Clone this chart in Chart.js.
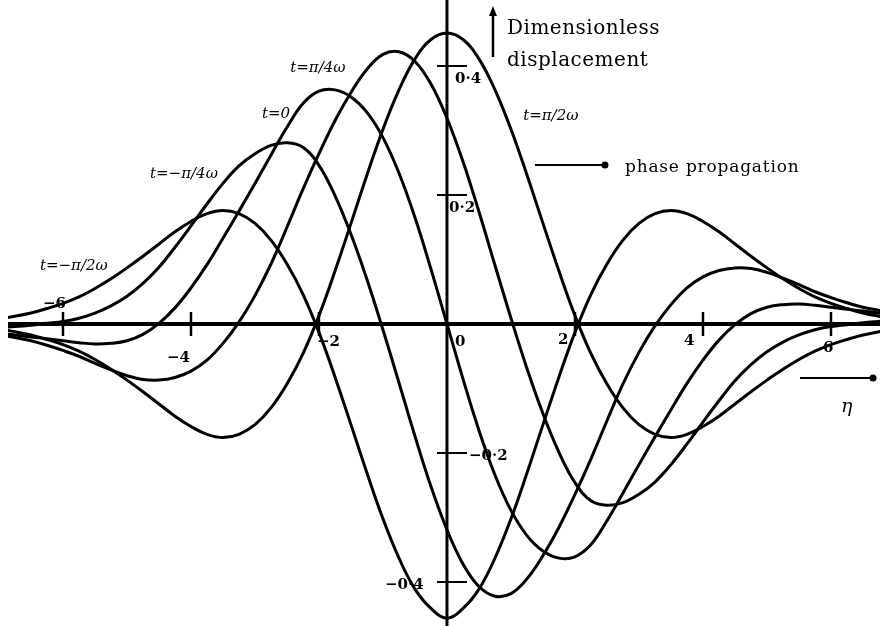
<!DOCTYPE html>
<html>
<head>
<meta charset="utf-8">
<script src="https://cdn.jsdelivr.net/npm/chart.js@4.4.1/dist/chart.umd.min.js"></script>
<style>
  html, body { margin: 0; padding: 0; background: #fff; }
  #wave { display: block; }
</style>
</head>
<body>
<canvas id="wave" width="880" height="626"></canvas>
<script>
// dimensionless distance eta, shared by every curve
var eta = [-7, -6.75, -6.5, -6.25, -6, -5.75, -5.5, -5.25, -5, -4.75, -4.5, -4.25, -4, -3.75, -3.5, -3.25,
           -3, -2.75, -2.5, -2.25, -2, -1.75, -1.5, -1.25, -1, -0.75, -0.5, -0.25, 0,
           0.25, 0.5, 0.75, 1, 1.25, 1.5, 1.75, 2, 2.25, 2.5, 2.75, 3, 3.25, 3.5, 3.75,
           4, 4.25, 4.5, 4.75, 5, 5.25, 5.5, 5.75, 6, 6.25, 6.5, 6.75, 7];

// displacement at five instants
var tMinusHalfPi = [0.008, 0.012, 0.017, 0.024, 0.032, 0.042, 0.055, 0.070, 0.087, 0.105, 0.124, 0.143, 0.159, 0.171, 0.176, 0.171,
                    0.156, 0.130, 0.093, 0.046, -0.013, -0.082, -0.156, -0.231, -0.302, -0.363, -0.411, -0.441, -0.456,
                    -0.441, -0.411, -0.363, -0.302, -0.231, -0.156, -0.082, -0.013, 0.046, 0.093, 0.130, 0.156, 0.171, 0.176, 0.171,
                    0.159, 0.143, 0.124, 0.105, 0.087, 0.070, 0.055, 0.042, 0.032, 0.024, 0.017, 0.012, 0.008];
var tMinusQuarterPi = [-0.005, -0.004, -0.002, 0.001, 0.004, 0.009, 0.017, 0.028, 0.043, 0.063, 0.088, 0.119, 0.152, 0.186, 0.218, 0.245,
                       0.264, 0.277, 0.281, 0.274, 0.246, 0.199, 0.139, 0.069, -0.009, -0.091, -0.174, -0.252, -0.319,
                       -0.372, -0.407, -0.422, -0.418, -0.395, -0.359, -0.315, -0.264, -0.209, -0.150, -0.093, -0.044, -0.003, 0.030, 0.056,
                       0.073, 0.083, 0.087, 0.086, 0.080, 0.071, 0.061, 0.050, 0.041, 0.033, 0.026, 0.021, 0.016];
var tZero = [-0.015, -0.017, -0.020, -0.023, -0.026, -0.029, -0.031, -0.030, -0.026, -0.016, 0.001, 0.025, 0.056, 0.092, 0.133, 0.175,
             0.218, 0.262, 0.305, 0.342, 0.361, 0.363, 0.352, 0.328, 0.289, 0.234, 0.165, 0.085, 0,
             -0.085, -0.165, -0.234, -0.289, -0.328, -0.352, -0.363, -0.361, -0.342, -0.305, -0.262, -0.218, -0.175, -0.133, -0.092,
             -0.056, -0.025, -0.001, 0.016, 0.026, 0.030, 0.031, 0.029, 0.026, 0.023, 0.020, 0.017, 0.015];
var tQuarterPi = [-0.016, -0.021, -0.026, -0.033, -0.041, -0.050, -0.061, -0.071, -0.080, -0.086, -0.087, -0.083, -0.073, -0.056, -0.030, 0.003,
                  0.044, 0.093, 0.150, 0.209, 0.264, 0.315, 0.359, 0.395, 0.418, 0.422, 0.407, 0.372, 0.319,
                  0.252, 0.174, 0.091, 0.009, -0.069, -0.139, -0.199, -0.246, -0.274, -0.281, -0.277, -0.264, -0.245, -0.218, -0.186,
                  -0.152, -0.119, -0.088, -0.063, -0.043, -0.028, -0.017, -0.009, -0.004, -0.001, 0.002, 0.004, 0.005];
var tHalfPi = [-0.008, -0.012, -0.017, -0.024, -0.032, -0.042, -0.055, -0.070, -0.087, -0.105, -0.124, -0.143, -0.159, -0.171, -0.176, -0.171,
               -0.156, -0.130, -0.093, -0.046, 0.013, 0.082, 0.156, 0.231, 0.302, 0.363, 0.411, 0.441, 0.451,
               0.441, 0.411, 0.363, 0.302, 0.231, 0.156, 0.082, 0.013, -0.046, -0.093, -0.130, -0.156, -0.171, -0.176, -0.171,
               -0.159, -0.143, -0.124, -0.105, -0.087, -0.070, -0.055, -0.042, -0.032, -0.024, -0.017, -0.012, -0.008];

var xTicks = [-6, -4, -2, 0, 2, 4, 6];
var xTickLabels = ['\u22126', '\u22124', '\u22122', '0', '2', '4', '6'];
var yTicks = [0.4, 0.2, -0.2, -0.4];
var yTickLabels = ['0\u00b74', '0\u00b72', '\u22120\u00b72', '\u22120\u00b74'];

function toPoints(ys) {
  return eta.map(function (x, i) { return { x: x, y: ys[i] }; });
}

var series = [tMinusHalfPi, tMinusQuarterPi, tZero, tQuarterPi, tHalfPi];

// axes through the origin, ticks and the captions
var axesPlugin = {
  id: 'axesThroughOrigin',
  beforeDatasetsDraw: function (chart) {
    var c = chart.ctx, xs = chart.scales.x, ys = chart.scales.y;
    var x0 = xs.getPixelForValue(0), y0 = ys.getPixelForValue(0);
    c.save();
    c.strokeStyle = '#000';
    c.lineWidth = 4;
    c.beginPath(); c.moveTo(chart.chartArea.left, y0); c.lineTo(chart.width, y0); c.stroke();
    c.lineWidth = 3;
    c.beginPath(); c.moveTo(x0, 0); c.lineTo(x0, chart.height); c.stroke();
    c.lineWidth = 2.5;
    xTicks.forEach(function (t) {
      if (t === 0) return;
      var px = xs.getPixelForValue(t);
      c.beginPath(); c.moveTo(px, y0 - 12); c.lineTo(px, y0 + 12); c.stroke();
    });
    c.lineWidth = 2;
    yTicks.forEach(function (v) {
      var py = ys.getPixelForValue(v);
      c.beginPath(); c.moveTo(x0 - 10, py); c.lineTo(x0 + 20, py); c.stroke();
    });
    c.restore();
  },
  afterDraw: function (chart) {
    var c = chart.ctx, xs = chart.scales.x, ys = chart.scales.y;
    var x0 = xs.getPixelForValue(0), y0 = ys.getPixelForValue(0);
    c.save();
    c.fillStyle = '#000';
    c.strokeStyle = '#000';

    // tick numbers
    c.font = 'bold 15px "DejaVu Serif"';
    var xOff = [[-20, -16], [-24, 38], [-2, 22], [8, 22], [-17, 20], [-19, 21], [-8, 28]];
    xTicks.forEach(function (t, i) {
      c.fillText(xTickLabels[i], xs.getPixelForValue(t) + xOff[i][0], y0 + xOff[i][1]);
    });
    var yOff = [[8, 17], [2, 17], [22, 7], [-62, 7]];
    yTicks.forEach(function (v, i) {
      c.fillText(yTickLabels[i], x0 + yOff[i][0], ys.getPixelForValue(v) + yOff[i][1]);
    });

    // time captions
    c.font = 'italic 15px "DejaVu Serif"';
    c.fillText('t=\u03c0/4\u03c9', xs.getPixelForValue(-2.45), ys.getPixelForValue(0.391));
    c.fillText('t=0', xs.getPixelForValue(-2.89), ys.getPixelForValue(0.319));
    c.fillText('t=\u2212\u03c0/4\u03c9', xs.getPixelForValue(-4.64), ys.getPixelForValue(0.226));
    c.fillText('t=\u2212\u03c0/2\u03c9', xs.getPixelForValue(-6.36), ys.getPixelForValue(0.084));
    c.fillText('t=\u03c0/2\u03c9', xs.getPixelForValue(1.19), ys.getPixelForValue(0.316));

    // vertical axis title with arrow
    c.font = '20px "DejaVu Serif"';
    c.letterSpacing = '0.5px';
    c.fillText('Dimensionless', x0 + 60, 34);
    c.fillText('displacement', x0 + 60, 66);
    c.lineWidth = 2.5;
    c.beginPath(); c.moveTo(x0 + 46, 57); c.lineTo(x0 + 46, 14); c.stroke();
    c.beginPath(); c.moveTo(x0 + 46, 6); c.lineTo(x0 + 42, 16); c.lineTo(x0 + 50, 16); c.closePath(); c.fill();

    // phase propagation arrow
    c.lineWidth = 2;
    c.beginPath(); c.moveTo(x0 + 88, 165); c.lineTo(x0 + 158, 165); c.stroke();
    c.beginPath(); c.arc(x0 + 158, 165, 3.5, 0, Math.PI * 2); c.fill();
    c.font = '17px "DejaVu Serif"';
    c.letterSpacing = '0.8px';
    c.fillText('phase propagation', x0 + 178, 172);
    c.letterSpacing = '0px';

    // eta arrow
    c.beginPath(); c.moveTo(800, y0 + 54); c.lineTo(873, y0 + 54); c.stroke();
    c.beginPath(); c.arc(873, y0 + 54, 3.5, 0, Math.PI * 2); c.fill();
    c.font = 'italic 19px "DejaVu Serif"';
    c.fillText('\u03b7', 841, y0 + 88);
    c.restore();
  }
};

var ctx = document.getElementById('wave').getContext('2d');
var waveChart = new Chart(ctx, {
  type: 'line',
  data: {
    datasets: series.map(function (ys) {
      return { data: toPoints(ys), borderColor: '#000', borderWidth: 3, fill: false };
    })
  },
  options: {
    responsive: false,
    animation: false,
    layout: { padding: { left: 8, right: 0, top: 0, bottom: 0 } },
    elements: {
      point: { radius: 0 },
      line: { tension: 0.4 }
    },
    scales: {
      x: { type: 'linear', min: -6.859, max: 6.766, display: false },
      y: { type: 'linear', min: -0.4682, max: 0.5023, display: false }
    },
    plugins: {
      legend: { display: false },
      tooltip: { enabled: false }
    }
  },
  plugins: [axesPlugin]
});
</script>
</body>
</html>
